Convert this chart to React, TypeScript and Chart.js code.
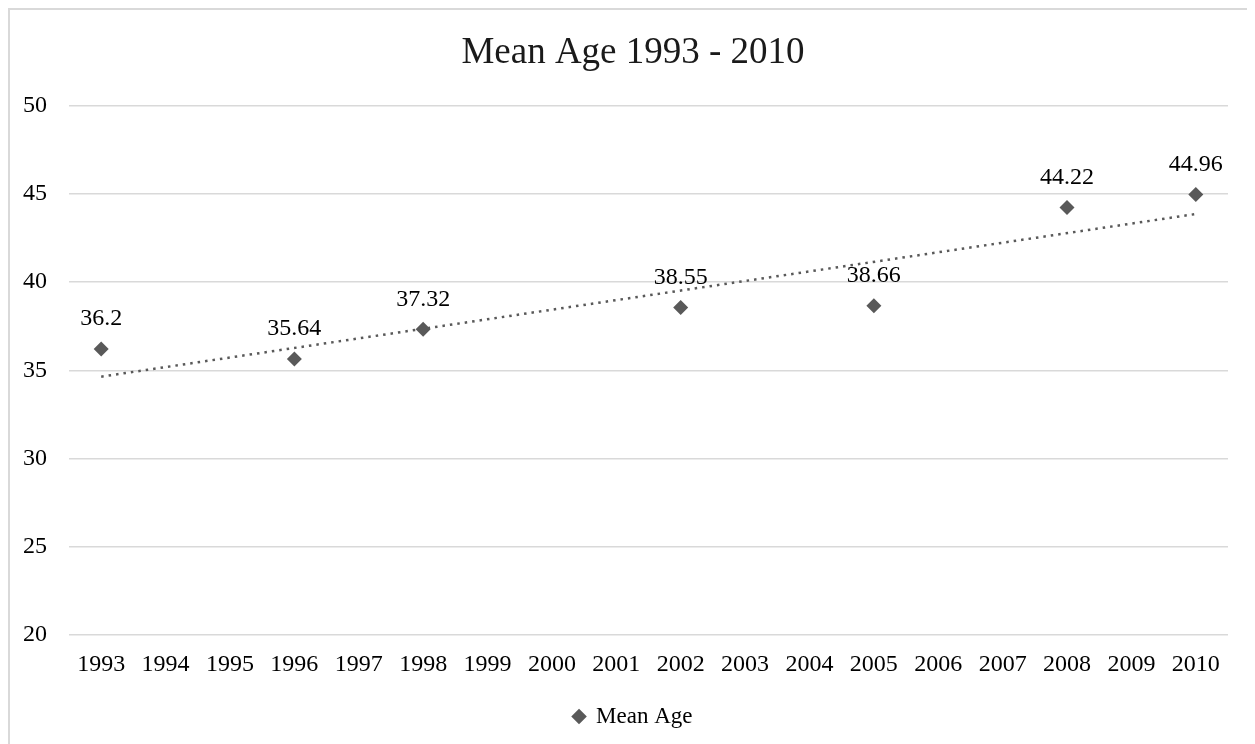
import React, { useEffect, useRef } from "react";
import { Chart, registerables } from "chart.js";

Chart.register(...registerables);

const categories = ["1993", "1994", "1995", "1996", "1997", "1998", "1999", "2000", "2001", "2002", "2003", "2004", "2005", "2006", "2007", "2008", "2009", "2010"];
const meanAge: (number | null)[] = [36.2, null, null, 35.64, null, 37.32, null, null, null, 38.55, null, null, 38.66, null, null, 44.22, null, 44.96];
const trendYears = ["1993", "2010"];
const trendValues = [34.64, 43.85];
const yMin = 20;
const yMax = 50;
const yStep = 5;

const FONT = "'Liberation Serif', 'Times New Roman', serif";

const labelPlugin = {
  id: "pointLabels",
  afterDatasetsDraw(chart: any) {
    const ctx = chart.ctx;
    const meta = chart.getDatasetMeta(0);
    const data = chart.data.datasets[0].data as (number | null)[];
    ctx.save();
    ctx.font = `24px ${FONT}`;
    ctx.fillStyle = "#000";
    ctx.textAlign = "center";
    ctx.textBaseline = "middle";
    meta.data.forEach((el: any, i: number) => {
      const v = data[i];
      if (v === null || v === undefined) return;
      ctx.fillText(String(v), el.x, el.y - 30);
    });
    ctx.restore();
  },
};

export default function App() {
  const ref = useRef<HTMLCanvasElement>(null);
  useEffect(() => {
    if (!ref.current) return;
    const chart = new Chart(ref.current, {
      type: "line",
      data: {
        labels: categories,
        datasets: [
          {
            label: "Mean Age",
            data: meanAge,
            showLine: false,
            pointStyle: "rectRot",
            pointRadius: 7.5,
            pointHoverRadius: 7.5,
            backgroundColor: "#595959",
            borderColor: "#595959",
            pointBorderWidth: 0,
          },
          {
            label: "trend",
            data: trendYears.map((y, i) => ({ x: y, y: trendValues[i] })) as any,
            borderColor: "#595959",
            borderWidth: 2.5,
            borderDash: [2.5, 5],
            pointRadius: 0,
            fill: false,
          },
        ],
      },
      options: {
        animation: false,
        responsive: false,
        maintainAspectRatio: false,
        layout: { padding: { left: 0, right: 0, top: 0, bottom: 8 } },
        plugins: {
          title: {
            display: true,
            text: "Mean Age 1993 - 2010",
            color: "#1a1a1a",
            font: { family: FONT, size: 37, weight: "normal" },
            padding: { top: 21, bottom: 30 },
          },
          legend: {
            display: true,
            position: "bottom",
            labels: {
              filter: (item: any) => item.datasetIndex === 0,
              usePointStyle: true,
              pointStyle: "rectRot",
              boxWidth: 11,
              boxHeight: 11,
              padding: 10,
              color: "#000",
              font: { family: FONT, size: 23 },
            },
          },
          tooltip: { enabled: false },
        },
        scales: {
          x: {
            type: "category",
            offset: true,
            grid: { display: false },
            border: { display: false },
            ticks: {
              color: "#000",
              font: { family: FONT, size: 24 },
              padding: 7,
              maxRotation: 0,
              autoSkip: false,
            },
            afterFit: (s: any) => {
              s.height += 9;
            },
          },
          y: {
            min: yMin,
            max: yMax,
            grid: { color: "#d9d9d9", lineWidth: 1.5, drawTicks: false },
            border: { display: false },
            ticks: {
              stepSize: yStep,
              color: "#000",
              font: { family: FONT, size: 24 },
              padding: 22,
            },
            afterFit: (s: any) => {
              s.width = 59;
            },
          },
          yRight: {
            position: "right",
            display: true,
            min: yMin,
            max: yMax,
            grid: { display: false },
            border: { display: false },
            ticks: { display: false },
            afterFit: (s: any) => {
              s.width = 28;
            },
          },
        },
      },
      plugins: [labelPlugin],
    });
    return () => chart.destroy();
  }, []);
  return (
    <div style={{ width: 1250, height: 740, border: "2px solid #d9d9d9", boxSizing: "border-box", background: "#fff" }}>
      <canvas ref={ref} width={1246} height={736} style={{ display: "block" }} />
    </div>
  );
}
